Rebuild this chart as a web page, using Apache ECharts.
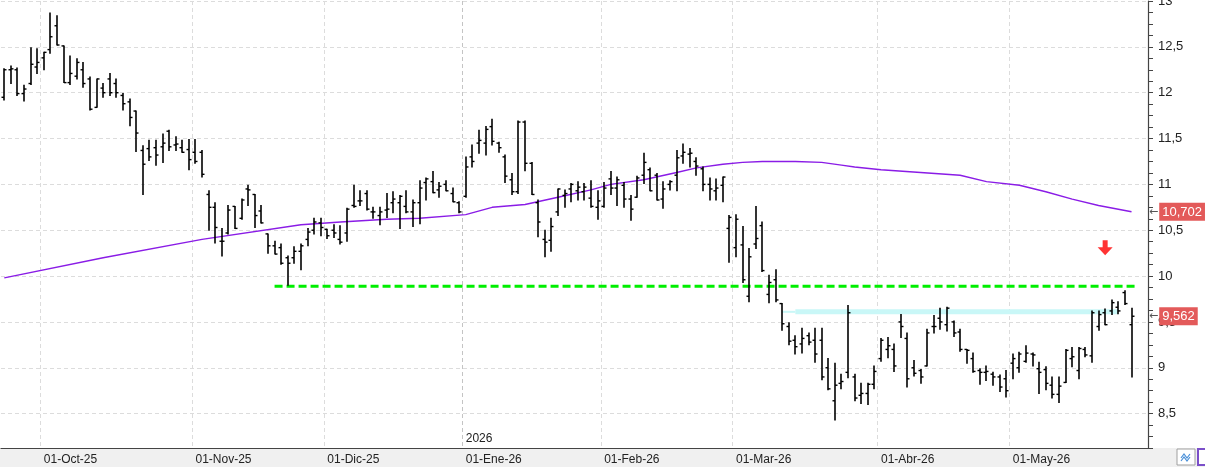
<!DOCTYPE html>
<html>
<head>
<meta charset="utf-8">
<title>Cotización diaria</title>
<style>
    html, body { margin: 0; padding: 0; background: #fff; }
    .chart { width: 1205px; height: 469px; }
</style>
</head>
<body>
<div class="chart"></div>
<script src="https://cdn.jsdelivr.net/npm/echarts@6.0.0/dist/echarts.min.js"></script>
<script>
// barras diarias OHLC
var openData = [
    11.95,12.25,12.25,11.99,12.10,12.28,12.38,12.47,12.73,12.51,
    12.11,12.18,12.25,12.15,11.84,12.05,12.15,12.10,11.97,11.90,
    11.80,11.37,11.39,11.40,11.41,11.58,11.43,11.40,11.38,11.35,
    11.35,10.89,10.75,10.38,10.47,10.76,10.63,10.95,10.89,10.71,
    10.46,10.33,10.31,10.20,10.20,10.27,10.40,10.50,10.58,10.51,
    10.50,10.40,10.47,10.77,10.82,10.90,10.70,10.66,10.72,10.80,
    10.80,10.76,10.70,10.80,11.02,11.03,10.94,11.00,10.90,10.80,
    10.87,11.30,11.45,11.45,11.63,11.45,11.30,11.05,10.92,11.68,
    11.23,10.80,10.40,10.39,10.70,10.88,10.95,10.93,10.92,10.85,
    10.75,10.76,11.06,10.96,10.99,10.84,10.86,11.10,11.16,11.10,
    10.84,11.00,11.10,11.31,11.33,11.25,11.17,11.00,10.93,10.99,
    10.52,10.31,10.34,9.78,10.35,10.55,9.80,9.96,9.70,9.45,
    9.30,9.26,9.35,9.30,9.30,9.00,8.64,8.83,8.95,8.90,
    8.70,8.72,8.82,9.10,9.20,9.20,9.50,9.32,9.00,8.97,
    9.02,9.45,9.54,9.47,9.50,9.39,9.20,9.10,8.97,8.95,
    8.93,8.90,8.88,9.05,9.00,9.07,9.15,8.99,8.98,8.81,
    8.71,8.84,9.10,8.97,9.20,9.13,9.45,9.60,9.62,9.66,
    9.82,9.47
];
var highData = [
    12.26,12.29,12.27,12.08,12.49,12.48,12.44,12.87,12.84,12.51,
    12.40,12.37,12.33,12.17,12.15,12.10,12.21,12.15,11.99,11.93,
    11.80,11.42,11.48,11.48,11.55,11.59,11.52,11.48,11.49,11.49,
    11.37,10.93,10.80,10.52,10.77,10.76,10.84,10.99,10.89,10.77,
    10.46,10.38,10.35,10.22,10.32,10.35,10.52,10.63,10.63,10.51,
    10.56,10.55,10.74,10.99,10.93,10.93,10.75,10.75,10.90,10.92,
    10.88,10.93,10.83,11.04,11.07,11.14,11.02,11.04,10.96,10.81,
    11.30,11.43,11.59,11.63,11.71,11.46,11.32,11.12,11.69,11.69,
    11.24,10.83,10.50,10.63,10.95,10.94,11.01,11.03,11.01,11.04,
    10.93,11.02,11.14,11.08,11.02,10.88,11.09,11.34,11.18,11.12,
    11.03,11.04,11.37,11.44,11.39,11.29,11.19,11.07,11.06,11.08,
    10.66,10.67,10.54,10.30,10.76,10.59,10.01,10.07,9.70,9.49,
    9.35,9.43,9.38,9.43,9.43,9.10,9.05,8.93,9.68,8.93,
    8.83,8.83,9.02,9.32,9.33,9.26,9.58,9.38,9.08,8.98,
    9.42,9.57,9.65,9.66,9.51,9.42,9.20,9.16,8.99,9.02,
    8.95,8.92,8.97,9.15,9.17,9.24,9.16,9.06,9.01,8.90,
    8.90,9.20,9.22,9.22,9.22,9.62,9.62,9.64,9.74,9.72,
    9.84,9.65
];
var lowData = [
    11.92,12.10,11.97,11.91,12.09,12.21,12.25,12.43,12.52,12.11,
    12.09,12.15,12.06,11.81,11.84,11.95,11.97,11.95,11.81,11.64,
    11.36,10.89,11.26,11.21,11.24,11.37,11.37,11.35,11.16,11.23,
    11.08,10.50,10.36,10.22,10.46,10.52,10.62,10.77,10.53,10.58,
    10.25,10.24,10.13,9.90,10.14,10.07,10.33,10.46,10.44,10.41,
    10.42,10.35,10.38,10.75,10.77,10.72,10.63,10.56,10.64,10.69,
    10.52,10.69,10.54,10.57,10.83,10.91,10.86,10.93,10.81,10.69,
    10.86,11.19,11.34,11.32,11.43,11.35,11.02,10.89,10.90,11.15,
    10.89,10.43,10.21,10.27,10.66,10.75,10.81,10.83,10.83,10.75,
    10.62,10.75,10.89,10.77,10.75,10.61,10.86,11.01,10.93,10.83,
    10.74,10.94,10.93,11.23,11.19,11.10,10.93,10.83,10.83,10.81,
    10.15,10.21,9.93,9.72,10.30,10.05,9.71,9.72,9.41,9.25,
    9.15,9.16,9.25,9.06,8.87,8.76,8.43,8.77,8.89,8.64,
    8.61,8.60,8.77,9.07,9.11,8.96,9.33,8.79,8.91,8.83,
    9.02,9.38,9.42,9.40,9.34,9.18,9.05,8.95,8.82,8.86,
    8.81,8.74,8.68,8.88,8.95,9.06,9.02,8.72,8.76,8.67,
    8.62,8.84,9.01,8.88,9.12,9.06,9.41,9.47,9.58,9.59,
    9.69,8.90
];
var closeData = [
    12.25,12.26,11.99,12.04,12.31,12.33,12.44,12.61,12.52,12.11,
    12.21,12.33,12.10,11.82,12.15,12.00,12.00,12.00,11.88,11.73,
    11.56,11.22,11.30,11.32,11.45,11.41,11.44,11.35,11.27,11.25,
    11.11,10.75,10.53,10.38,10.72,10.52,10.83,10.94,10.66,10.58,
    10.33,10.24,10.14,10.14,10.27,10.33,10.48,10.59,10.53,10.44,
    10.47,10.37,10.73,10.76,10.82,10.73,10.70,10.70,10.73,10.84,
    10.87,10.70,10.80,10.96,11.06,10.91,10.98,10.93,10.81,10.70,
    11.19,11.25,11.48,11.60,11.47,11.40,11.09,10.92,11.68,11.23,
    10.89,10.59,10.37,10.54,10.95,10.90,11.00,10.97,10.97,10.76,
    10.82,10.96,10.96,11.05,10.84,10.73,11.07,11.24,10.93,10.83,
    10.95,11.03,11.29,11.35,11.34,11.20,11.00,10.95,10.96,11.08,
    10.64,10.62,9.96,10.21,10.41,10.06,9.93,9.74,9.48,9.29,
    9.23,9.32,9.28,9.15,8.90,8.77,8.81,8.85,9.60,8.67,
    8.72,8.82,8.96,9.30,9.24,9.02,9.45,8.88,8.94,8.90,
    9.38,9.45,9.50,9.65,9.38,9.20,9.19,8.96,8.95,8.96,
    8.90,8.79,8.75,9.10,9.15,9.16,9.14,8.95,8.83,8.71,
    8.80,9.19,9.12,9.21,9.14,9.60,9.58,9.47,9.71,9.62,
    9.70,9.562
];

// media movil (purpura): sesion y valor leidos
var maIdx = [0,15,30,45,51,58,63,70,74,79,84,89,92,97,102,105,109,112,115,120,124,127,129,133,145,149,154,158,162,166,171];
var maVal = [9.98,10.20,10.40,10.56,10.59,10.62,10.63,10.67,10.75,10.78,10.86,10.94,11.00,11.05,11.13,11.18,11.22,11.24,11.25,11.25,11.24,11.21,11.19,11.16,11.10,11.03,10.99,10.92,10.84,10.77,10.702];

// lineas dibujadas a mano: soporte verde y zona cian
var supportLine = [[41, 9.89], [172, 9.89]];
var resistThin = [[118, 9.61], [120, 9.61]];
var resistBand = [[120, 9.61], [169, 9.61]];
var arrowPoint = [[167, 10.31]];

// etiquetas del eje de precios
var lastMa = 10.702;
var lastClose = 9.562;

// calendario de sesiones
var monthNames = ['Ene','Feb','Mar','Abr','May','Jun','Jul','Ago','Sep','Oct','Nov','Dic'];
var holidays = ['2025-12-25','2025-12-26','2026-01-01','2026-04-03','2026-04-06','2026-05-01'];
var emptySlots = 2;

var categories = [];
var d = new Date(Date.UTC(2025, 8, 23));
while (categories.length < openData.length + emptySlots) {
    var s = d.toISOString().slice(0, 10);
    var wd = d.getUTCDay();
    if (wd !== 0 && wd !== 6 && holidays.indexOf(s) < 0) {
        categories.push(s);
    }
    d.setUTCDate(d.getUTCDate() + 1);
}

function isMonthStart(i) {
    return i > 0 && i < openData.length && categories[i].slice(5, 7) !== categories[i - 1].slice(5, 7);
}
function isYearStart(i) {
    return i > 0 && i < openData.length && categories[i].slice(0, 4) !== categories[i - 1].slice(0, 4);
}
function monthLabel(s) {
    return '01-' + monthNames[+s.slice(5, 7) - 1] + '-' + s.slice(2, 4);
}

var xGridColors = [];
for (var k = 0; k < categories.length; k++) {
    if (isMonthStart(k)) xGridColors.push(isYearStart(k) ? '#c4c4c4' : '#dcdcdc');
}

var ohlc = [];
for (var i = 0; i < openData.length; i++) {
    ohlc.push([i, openData[i], closeData[i], lowData[i], highData[i]]);
}

function renderBar(params, api) {
    var idx = api.value(0);
    var pO = api.coord([idx, api.value(1)]);
    var pC = api.coord([idx, api.value(2)]);
    var pL = api.coord([idx, api.value(3)]);
    var pH = api.coord([idx, api.value(4)]);
    var x = Math.round(pH[0]);
    return {
        type: 'group',
        children: [
            { type: 'line', shape: { x1: x, y1: pH[1] - 0.5, x2: x, y2: pL[1] + 0.5 }, style: { stroke: '#000', lineWidth: 1.6 } },
            { type: 'line', shape: { x1: x - 2.5, y1: pO[1], x2: x, y2: pO[1] }, style: { stroke: '#000', lineWidth: 1.4 } },
            { type: 'line', shape: { x1: x, y1: pC[1], x2: x + 2.5, y2: pC[1] }, style: { stroke: '#000', lineWidth: 1.4 } }
        ]
    };
}

function priceTag(p) {
    return '{a|\u2190}{b|' + String(p.value).replace('.', ',') + '}';
}

var myChart = echarts.init(document.querySelector('.chart'));

var option = {
    animation: false,
    backgroundColor: '#fff',
    textStyle: { fontFamily: 'Liberation Sans, Arial, sans-serif' },
    grid: { left: 1, right: 57, top: 1, bottom: 21, outerBoundsMode: 'none' },
    graphic: [
        { type: 'rect', z: -100, shape: { x: 0, y: 448, width: 1205, height: 19 }, style: { fill: '#f0f0f0' } },
        { type: 'rect', z: 10, shape: { x: 1177, y: 449, width: 18, height: 16 }, style: { fill: '#fff', stroke: '#a0a0a0', lineWidth: 1 } },
        { type: 'polyline', z: 11, shape: { points: [[1181, 458], [1184, 454], [1187, 458], [1190, 454]] }, style: { stroke: '#4a90d9', fill: null, lineWidth: 1.2 } },
        { type: 'polyline', z: 11, shape: { points: [[1181, 461], [1184, 457], [1187, 461], [1190, 457]] }, style: { stroke: '#4a90d9', fill: null, lineWidth: 1.2 } },
        { type: 'rect', z: 10, shape: { x: 1198, y: 449, width: 10, height: 16 }, style: { fill: '#fff', stroke: '#7b4fc9', lineWidth: 2 } }
    ],
    xAxis: [
        {
            type: 'category',
            data: categories,
            boundaryGap: true,
            axisLine: { lineStyle: { color: '#444', width: 1.2 } },
            axisTick: { interval: function (i) { return isMonthStart(i); }, length: 5, lineStyle: { color: '#444' } },
            axisLabel: {
                interval: function (i) { return isMonthStart(i); },
                formatter: function (v) { return monthLabel(v); },
                align: 'left',
                margin: 6,
                fontSize: 12,
                color: '#222'
            },
            splitLine: {
                show: true,
                interval: function (i) { return isMonthStart(i); },
                lineStyle: { color: xGridColors, type: [4, 3], width: 1 }
            }
        },
        {
            type: 'category',
            data: categories,
            position: 'bottom',
            boundaryGap: true,
            axisLine: { show: false },
            axisTick: { inside: true, length: 7, interval: function (i) { return isYearStart(i); }, lineStyle: { color: '#444' } },
            axisLabel: {
                inside: true,
                interval: function (i) { return isYearStart(i); },
                formatter: function (v) { return v.slice(0, 4); },
                align: 'left',
                margin: 3,
                fontSize: 12,
                color: '#222'
            },
            splitLine: { show: false }
        }
    ],
    yAxis: {
        type: 'value',
        position: 'right',
        min: 8.125,
        max: 13,
        interval: 0.125,
        axisLine: { show: true, lineStyle: { color: '#444', width: 1.2 } },
        axisTick: { show: true, length: 5, lineStyle: { color: '#444' } },
        axisLabel: {
            margin: 10,
            fontSize: 13,
            color: '#222',
            formatter: function (v) {
                var r = Math.round(v * 2) / 2;
                if (Math.abs(v - r) > 1e-6) return '';
                return String(r).replace('.', ',');
            }
        },
        splitLine: {
            show: true,
            lineStyle: { color: ['rgba(0,0,0,0)', 'rgba(0,0,0,0)', 'rgba(0,0,0,0)', '#dcdcdc'], type: [4, 3], width: 1 }
        }
    },
    series: [
        {
            name: 'media',
            type: 'line',
            data: maIdx.map(function (v, j) { return [v, maVal[j]]; }),
            symbol: 'none',
            lineStyle: { color: '#8a1ce6', width: 1.4 },
            z: 3,
            markLine: {
                silent: true,
                symbol: 'none',
                precision: 3,
                lineStyle: { color: 'rgba(0,0,0,0)', width: 0 },
                label: {
                    show: true,
                    position: 'end',
                    distance: 1,
                    formatter: priceTag,
                    rich: {
                        a: { color: '#555', fontSize: 11, fontFamily: 'DejaVu Sans', padding: [0, 1, 0, 0] },
                        b: { color: '#fff', fontSize: 13, backgroundColor: '#e35a5a', padding: [3, 3, 2, 3] }
                    }
                },
                data: [{ yAxis: lastMa }, { yAxis: lastClose }]
            }
        },
        {
            name: 'soporte',
            type: 'line',
            data: supportLine,
            symbol: 'none',
            lineStyle: { color: '#00ee00', width: 3, type: [8, 4] },
            z: 4
        },
        {
            name: 'zona',
            type: 'line',
            data: resistThin,
            symbol: 'none',
            lineStyle: { color: '#c9f7f7', width: 2 },
            z: 1
        },
        {
            name: 'zona2',
            type: 'line',
            data: resistBand,
            symbol: 'none',
            lineStyle: { color: '#c9f7f7', width: 5 },
            z: 1
        },
        {
            name: 'ohlc',
            type: 'custom',
            renderItem: renderBar,
            encode: { x: 0, y: [1, 2, 3, 4] },
            data: ohlc,
            z: 5
        },
        {
            name: 'flecha',
            type: 'scatter',
            data: arrowPoint,
            symbol: 'path://M5,0 L10,0 L10,7 L15,7 L7.5,15 L0,7 L5,7 Z',
            symbolSize: [15, 15],
            itemStyle: { color: '#ff0000' },
            z: 6
        }
    ]
};

myChart.setOption(option);
window.addEventListener('resize', function () {
    myChart.resize();
});
</script>
</body>
</html>
